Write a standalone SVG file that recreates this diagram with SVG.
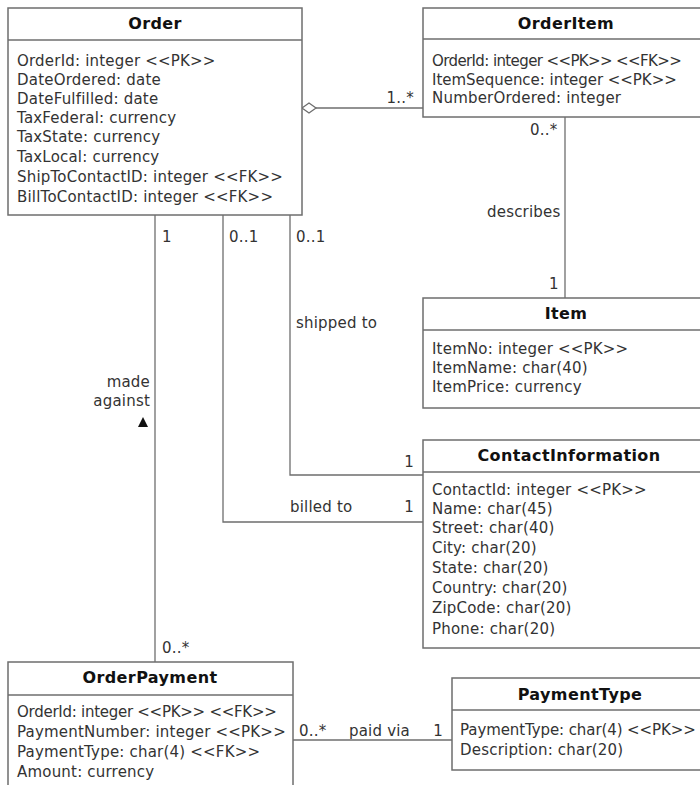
<svg xmlns="http://www.w3.org/2000/svg" width="700" height="785" viewBox="0 0 700 785">
  <style>
    .box { fill: #ffffff; stroke: #6e6e6e; stroke-width: 1.5; }
    .div { stroke: #6e6e6e; stroke-width: 1.5; }
    .title { font-family: "DejaVu Sans", "Open Sans", sans-serif; font-size: 16px; font-weight: bold; letter-spacing: 0.4px; fill: #111; text-anchor: middle; }
    .attr { font-family: "DejaVu Sans", "Open Sans", sans-serif; font-size: 15px; letter-spacing: 0.2px; fill: #333; }
    .lbl { font-family: "DejaVu Sans", "Open Sans", sans-serif; font-size: 15px; letter-spacing: 0.2px; fill: #333; }
    .conn { fill: none; stroke: #6e6e6e; stroke-width: 1.3; }
  </style>

  <!-- associations -->
  <g id="connectors">
    <line class="conn" x1="316" y1="108" x2="423" y2="108"/>
    <polygon points="302,108 309,103 316,108 309,113" fill="#fff" stroke="#6e6e6e" stroke-width="1.3"/>
    <line class="conn" x1="565" y1="117" x2="565" y2="298"/>
    <line class="conn" x1="155" y1="215" x2="155" y2="662"/>
    <polyline class="conn" points="223,215 223,522 423,522"/>
    <polyline class="conn" points="290,215 290,475 423,475"/>
    <line class="conn" x1="293" y1="740" x2="452" y2="740"/>

    <text class="lbl" x="414" y="103" text-anchor="end">1..*</text>
    <text class="lbl" x="530" y="135">0..*</text>
    <text class="lbl" x="487" y="217">describes</text>
    <text class="lbl" x="549" y="289">1</text>
    <text class="lbl" x="162" y="242">1</text>
    <text class="lbl" x="229" y="242">0..1</text>
    <text class="lbl" x="296" y="242">0..1</text>
    <text class="lbl" x="296" y="328">shipped to</text>
    <text class="lbl" x="150" y="387" text-anchor="end">made</text>
    <text class="lbl" x="150" y="406" text-anchor="end">against</text>
    <polygon points="143,417 148,427 138,427" fill="#111"/>
    <text class="lbl" x="414" y="467" text-anchor="end">1</text>
    <text class="lbl" x="290" y="512">billed to</text>
    <text class="lbl" x="414" y="512" text-anchor="end">1</text>
    <text class="lbl" x="162" y="653">0..*</text>
    <text class="lbl" x="299" y="736">0..*</text>
    <text class="lbl" x="349" y="736">paid via</text>
    <text class="lbl" x="443" y="736" text-anchor="end">1</text>
  </g>

  <g id="Order">
    <rect class="box" x="8" y="8" width="294" height="207"/>
    <line class="div" x1="8" y1="40" x2="302" y2="40"/>
    <text class="title" x="155" y="29">Order</text>
    <text class="attr" x="17" y="66">OrderId: integer &lt;&lt;PK&gt;&gt;</text>
    <text class="attr" x="17" y="85">DateOrdered: date</text>
    <text class="attr" x="17" y="104">DateFulfilled: date</text>
    <text class="attr" x="17" y="123">TaxFederal: currency</text>
    <text class="attr" x="17" y="142">TaxState: currency</text>
    <text class="attr" x="17" y="162">TaxLocal: currency</text>
    <text class="attr" x="17" y="182">ShipToContactID: integer &lt;&lt;FK&gt;&gt;</text>
    <text class="attr" x="17" y="202">BillToContactID: integer &lt;&lt;FK&gt;&gt;</text>
  </g>

  <g id="OrderItem">
    <rect class="box" x="423" y="8" width="290" height="109"/>
    <line class="div" x1="423" y1="39" x2="700" y2="39"/>
    <text class="title" x="566" y="29">OrderItem</text>
    <text class="attr" x="432" y="66" textLength="250">OrderId: integer &lt;&lt;PK&gt;&gt; &lt;&lt;FK&gt;&gt;</text>
    <text class="attr" x="432" y="85" textLength="245">ItemSequence: integer &lt;&lt;PK&gt;&gt;</text>
    <text class="attr" x="432" y="103">NumberOrdered: integer</text>
  </g>

  <g id="Item">
    <rect class="box" x="423" y="298" width="290" height="110"/>
    <line class="div" x1="423" y1="330" x2="700" y2="330"/>
    <text class="title" x="566" y="319">Item</text>
    <text class="attr" x="432" y="354">ItemNo: integer &lt;&lt;PK&gt;&gt;</text>
    <text class="attr" x="432" y="373">ItemName: char(40)</text>
    <text class="attr" x="432" y="392">ItemPrice: currency</text>
  </g>

  <g id="ContactInformation">
    <rect class="box" x="423" y="440" width="290" height="208"/>
    <line class="div" x1="423" y1="472" x2="700" y2="472"/>
    <text class="title" x="569" y="461">ContactInformation</text>
    <text class="attr" x="432" y="495">ContactId: integer &lt;&lt;PK&gt;&gt;</text>
    <text class="attr" x="432" y="514">Name: char(45)</text>
    <text class="attr" x="432" y="533">Street: char(40)</text>
    <text class="attr" x="432" y="553">City: char(20)</text>
    <text class="attr" x="432" y="573">State: char(20)</text>
    <text class="attr" x="432" y="593">Country: char(20)</text>
    <text class="attr" x="432" y="613">ZipCode: char(20)</text>
    <text class="attr" x="432" y="634">Phone: char(20)</text>
  </g>

  <g id="OrderPayment">
    <rect class="box" x="8" y="662" width="285" height="140"/>
    <line class="div" x1="8" y1="695" x2="293" y2="695"/>
    <text class="title" x="150" y="683">OrderPayment</text>
    <text class="attr" x="17" y="717" textLength="260">OrderId: integer &lt;&lt;PK&gt;&gt; &lt;&lt;FK&gt;&gt;</text>
    <text class="attr" x="17" y="737">PaymentNumber: integer &lt;&lt;PK&gt;&gt;</text>
    <text class="attr" x="17" y="757">PaymentType: char(4) &lt;&lt;FK&gt;&gt;</text>
    <text class="attr" x="17" y="777">Amount: currency</text>
  </g>

  <g id="PaymentType">
    <rect class="box" x="452" y="678" width="270" height="92"/>
    <line class="div" x1="452" y1="710" x2="700" y2="710"/>
    <text class="title" x="580" y="700">PaymentType</text>
    <text class="attr" x="460" y="735" textLength="236">PaymentType: char(4) &lt;&lt;PK&gt;&gt;</text>
    <text class="attr" x="460" y="755">Description: char(20)</text>
  </g>
</svg>
